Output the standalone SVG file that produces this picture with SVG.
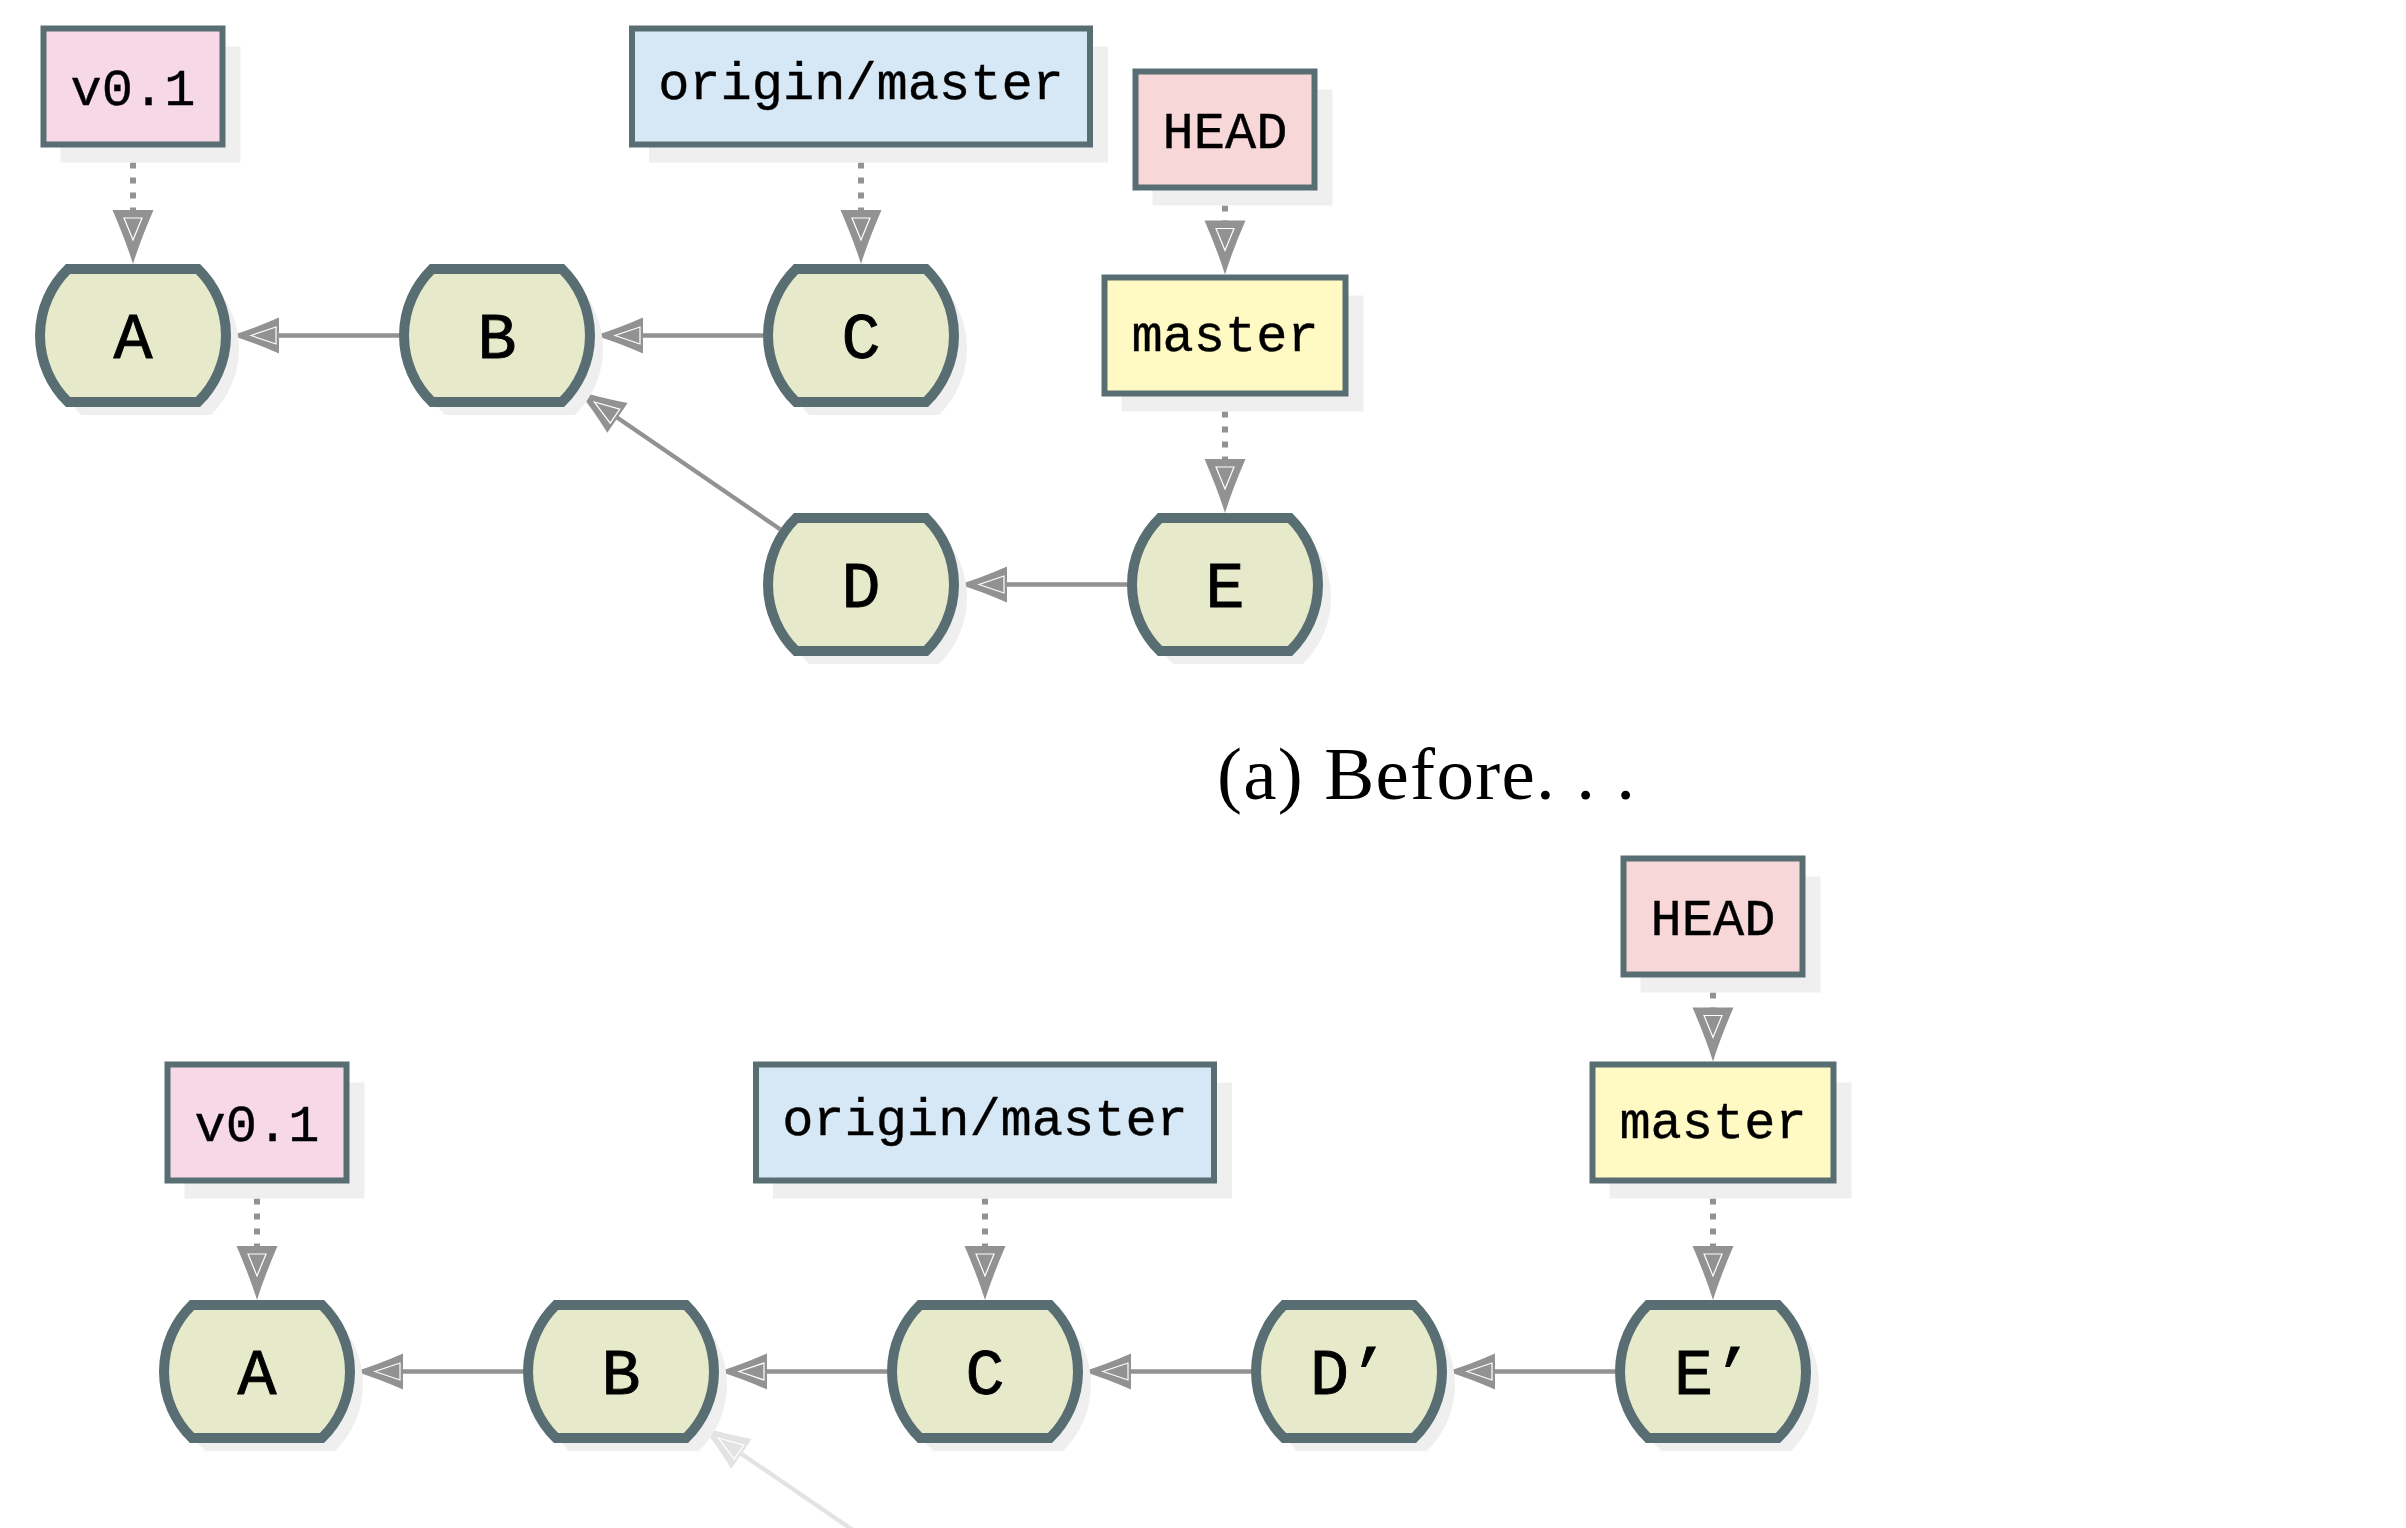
<svg xmlns="http://www.w3.org/2000/svg" width="2406" height="1528" viewBox="0 0 2406 1528">
<style>
.lbl{stroke:#586e73;stroke-width:6}
.shd{fill:#efefef}
.cell{fill:#e6e9ca;stroke:#586e73;stroke-width:10}
.lt{font-family:"Liberation Mono","DejaVu Sans Mono",monospace;font-size:52px;fill:#000;stroke:#000;stroke-width:0.4;text-anchor:middle}
.nt{font-family:"Liberation Mono","DejaVu Sans Mono",monospace;font-size:65px;fill:#000;stroke:#000;stroke-width:0.9;text-anchor:middle}
.c{stroke:#929292;stroke-width:4.3;fill:none;marker-end:url(#ah)}
.d{stroke:#929292;stroke-width:6;fill:none;stroke-dasharray:6 9;marker-end:url(#ahd)}
.f{stroke:#e3e3e3;stroke-width:4.3;fill:none;marker-end:url(#ahf)}
.cap{font-family:"Liberation Serif","DejaVu Serif",serif;font-size:75px;fill:#000}
</style>
<defs>
<path id="cellp" d="M-65,-66.5 H65 A93,93 0 0 1 65,66.5 H-65 A93,93 0 0 1 -65,-66.5 Z"/>
<marker id="ah" markerUnits="userSpaceOnUse" markerWidth="52" markerHeight="40" viewBox="0 -20 52 40" refX="27" refY="0" orient="auto" overflow="visible">
<path d="M48,0 Q25,-7 0,-18 L0,18 Q25,7 48,0 Z" fill="#929292"/>
<path d="M28,0 L3,-8.5 L3,8.5 Z" fill="none" stroke="#fff" stroke-width="1.2"/>
</marker>
<marker id="ahd" markerUnits="userSpaceOnUse" markerWidth="60" markerHeight="44" viewBox="0 -22 60 44" refX="24" refY="0" orient="auto" overflow="visible">
<path d="M54,0 Q30,-7.5 0,-20.5 L0,20.5 Q30,7.5 54,0 Z" fill="#929292"/>
<path d="M30,0 L8,-9 L8,9 Z" fill="none" stroke="#fff" stroke-width="1.2"/>
</marker>
<marker id="ahf" markerUnits="userSpaceOnUse" markerWidth="52" markerHeight="40" viewBox="0 -20 52 40" refX="27" refY="0" orient="auto" overflow="visible">
<path d="M48,0 Q25,-7 0,-18 L0,18 Q25,7 48,0 Z" fill="#e3e3e3"/>
<path d="M28,0 L3,-8.5 L3,8.5 Z" fill="none" stroke="#fff" stroke-width="1.2"/>
</marker>
</defs>
<rect width="2406" height="1528" fill="#fff"/>

<g id="connectors">
<line class="c" x1="399" y1="335.5" x2="252" y2="335.5"/>
<line class="c" x1="763" y1="335.5" x2="616" y2="335.5"/>
<line class="c" x1="1127" y1="584.5" x2="980" y2="584.5"/>
<line class="c" x1="780.1" y1="529.2" x2="595.2" y2="402.6"/>
<line class="d" x1="133" y1="147.5" x2="133" y2="234"/>
<line class="d" x1="861" y1="147.5" x2="861" y2="234"/>
<line class="d" x1="1225" y1="190.5" x2="1225" y2="244.5"/>
<line class="d" x1="1225" y1="396.5" x2="1225" y2="483"/>
<line class="d" x1="257" y1="1183.5" x2="257" y2="1270"/>
<line class="d" x1="985" y1="1183.5" x2="985" y2="1270"/>
<line class="d" x1="1713" y1="977.5" x2="1713" y2="1031.5"/>
<line class="d" x1="1713" y1="1183.5" x2="1713" y2="1270"/>
<line class="c" x1="523" y1="1371.5" x2="376" y2="1371.5"/>
<line class="c" x1="887" y1="1371.5" x2="740" y2="1371.5"/>
<line class="c" x1="1251" y1="1371.5" x2="1104" y2="1371.5"/>
<line class="c" x1="1615" y1="1371.5" x2="1468" y2="1371.5"/>
<line class="f" x1="904.1" y1="1565.2" x2="719.2" y2="1438.6"/>
</g>

<g id="top-v01"><rect class="shd" x="60.5" y="46.5" width="180" height="116"/><rect class="lbl" fill="#f6d8e6" x="43.5" y="28.5" width="179" height="116"/><text class="lt" x="133" y="104.5">v0.1</text></g>
<g id="top-origin"><rect class="shd" x="649" y="46.5" width="459" height="116"/><rect class="lbl" fill="#d6e8f5" x="632" y="28.5" width="458" height="116"/><text class="lt" x="861" y="98.5">origin/master</text></g>
<g id="top-head"><rect class="shd" x="1152.5" y="89.5" width="180" height="116"/><rect class="lbl" fill="#f7d7d7" x="1135.5" y="71.5" width="179" height="116"/><text class="lt" x="1225" y="147.5">HEAD</text></g>
<g id="top-master"><rect class="shd" x="1121.5" y="295.5" width="242" height="116"/><rect class="lbl" fill="#fffac4" x="1104.5" y="277.5" width="241" height="116"/><text class="lt" x="1225" y="351">master</text></g>

<g id="top-A"><use href="#cellp" class="shd" x="146" y="348.5"/><use href="#cellp" class="cell" x="133" y="335.5"/><text class="nt" x="133" y="357.5">A</text></g>
<g id="top-B"><use href="#cellp" class="shd" x="510" y="348.5"/><use href="#cellp" class="cell" x="497" y="335.5"/><text class="nt" x="497" y="357.5">B</text></g>
<g id="top-C"><use href="#cellp" class="shd" x="874" y="348.5"/><use href="#cellp" class="cell" x="861" y="335.5"/><text class="nt" x="861" y="357.5">C</text></g>
<g id="top-D"><use href="#cellp" class="shd" x="874" y="597.5"/><use href="#cellp" class="cell" x="861" y="584.5"/><text class="nt" x="861" y="606.5">D</text></g>
<g id="top-E"><use href="#cellp" class="shd" x="1238" y="597.5"/><use href="#cellp" class="cell" x="1225" y="584.5"/><text class="nt" x="1225" y="606.5">E</text></g>

<g id="caption"><text class="cap" x="1217" y="799" textLength="418">(a) Before. . .</text></g>

<g id="bot-head"><rect class="shd" x="1640.5" y="876.5" width="180" height="116"/><rect class="lbl" fill="#f7d7d7" x="1623.5" y="858.5" width="179" height="116"/><text class="lt" x="1713" y="934.5">HEAD</text></g>
<g id="bot-master"><rect class="shd" x="1609.5" y="1082.5" width="242" height="116"/><rect class="lbl" fill="#fffac4" x="1592.5" y="1064.5" width="241" height="116"/><text class="lt" x="1713" y="1138">master</text></g>
<g id="bot-v01"><rect class="shd" x="184.5" y="1082.5" width="180" height="116"/><rect class="lbl" fill="#f6d8e6" x="167.5" y="1064.5" width="179" height="116"/><text class="lt" x="257" y="1140.5">v0.1</text></g>
<g id="bot-origin"><rect class="shd" x="773" y="1082.5" width="459" height="116"/><rect class="lbl" fill="#d6e8f5" x="756" y="1064.5" width="458" height="116"/><text class="lt" x="985" y="1134.5">origin/master</text></g>

<g id="bot-A"><use href="#cellp" class="shd" x="270" y="1384.5"/><use href="#cellp" class="cell" x="257" y="1371.5"/><text class="nt" x="257" y="1393.5">A</text></g>
<g id="bot-B"><use href="#cellp" class="shd" x="634" y="1384.5"/><use href="#cellp" class="cell" x="621" y="1371.5"/><text class="nt" x="621" y="1393.5">B</text></g>
<g id="bot-C"><use href="#cellp" class="shd" x="998" y="1384.5"/><use href="#cellp" class="cell" x="985" y="1371.5"/><text class="nt" x="985" y="1393.5">C</text></g>
<g id="bot-D2"><use href="#cellp" class="shd" x="1362" y="1384.5"/><use href="#cellp" class="cell" x="1349" y="1371.5"/><text class="nt" x="1349" y="1393.5">D’</text></g>
<g id="bot-E2"><use href="#cellp" class="shd" x="1726" y="1384.5"/><use href="#cellp" class="cell" x="1713" y="1371.5"/><text class="nt" x="1713" y="1393.5">E’</text></g>
</svg>
